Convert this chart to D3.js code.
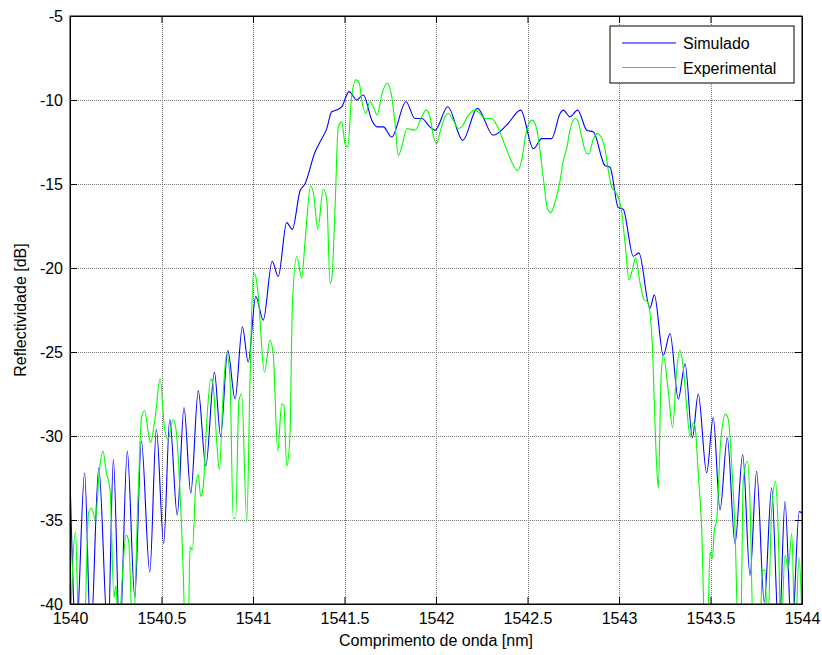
<!DOCTYPE html>
<html>
<head>
<meta charset="utf-8">
<script src="https://cdn.jsdelivr.net/npm/d3@7"></script>
<style>
  html, body { margin: 0; padding: 0; background: #fff; }
  svg { display: block; }
  text { font-family: "Liberation Sans", Arial, Helvetica, sans-serif; fill: #000; }
</style>
</head>
<body>
<svg id="chart" width="822" height="655"></svg>
<script>
// Simulated reflectivity spectrum (wavelength in nm, reflectivity in dB)
const simWl = [
  1540.000, 1540.034, 1540.080, 1540.113, 1540.157, 1540.208, 1540.237, 1540.272,
  1540.313, 1540.354, 1540.390, 1540.436, 1540.472, 1540.512, 1540.545, 1540.586,
  1540.623, 1540.660, 1540.701, 1540.742, 1540.789, 1540.823, 1540.862, 1540.902,
  1540.942, 1540.974, 1541.015, 1541.056, 1541.105, 1541.138, 1541.184, 1541.215,
  1541.257, 1541.284, 1541.339, 1541.366, 1541.403, 1541.430, 1541.457, 1541.485,
  1541.525, 1541.567, 1541.603, 1541.649, 1541.679, 1541.712, 1541.758, 1541.836,
  1541.885, 1541.922, 1541.967, 1541.995, 1542.064, 1542.146, 1542.226, 1542.313,
  1542.386, 1542.463, 1542.532, 1542.578, 1542.632, 1542.678, 1542.696, 1542.732,
  1542.774, 1542.824, 1542.860, 1542.923, 1542.951, 1542.996, 1543.023, 1543.078,
  1543.109, 1543.169, 1543.193, 1543.242, 1543.279, 1543.324, 1543.361, 1543.401,
  1543.433, 1543.479, 1543.515, 1543.552, 1543.592, 1543.634, 1543.676, 1543.716,
  1543.752, 1543.794, 1543.834, 1543.874, 1543.907, 1543.944, 1543.985, 1544.000
];
const simDb = [
  -32.4, -42.0, -32.2, -42.0, -31.9, -42.0, -31.4, -42.0,
  -30.9, -39.6, -30.3, -38.1, -29.6, -36.4, -29.0, -34.7,
  -28.3, -33.4, -27.3, -31.8, -26.2, -30.0, -24.9, -27.8,
  -23.5, -25.6, -21.7, -23.1, -19.6, -20.5, -17.3, -17.7,
  -15.4, -15.0, -13.1, -12.5, -11.7, -10.7, -10.6, -10.4,
  -9.5, -10.0, -9.7, -11.2, -11.6, -11.6, -12.2, -10.1,
  -11.1, -11.1, -11.6, -11.8, -10.4, -12.4, -10.5, -12.1,
  -11.5, -10.6, -12.9, -12.3, -12.3, -10.8, -10.6, -11.0,
  -10.6, -11.8, -11.9, -13.9, -14.0, -16.4, -16.5, -19.3,
  -19.1, -22.4, -21.6, -25.2, -23.9, -27.8, -25.7, -30.1,
  -27.5, -32.2, -28.9, -34.4, -30.1, -36.4, -31.1, -38.3,
  -32.1, -39.9, -33.1, -42.0, -33.9, -42.0, -34.5, -34.6
];

// Measured reflectivity spectrum
const expWl = [
  1540.000, 1540.030, 1540.049, 1540.077, 1540.101, 1540.117, 1540.139, 1540.161,
  1540.180, 1540.199, 1540.219, 1540.240, 1540.251, 1540.265, 1540.286, 1540.306,
  1540.320, 1540.344, 1540.372, 1540.391, 1540.408, 1540.428, 1540.440, 1540.464,
  1540.493, 1540.517, 1540.536, 1540.563, 1540.579, 1540.608, 1540.617, 1540.631,
  1540.645, 1540.656, 1540.669, 1540.687, 1540.701, 1540.714, 1540.728, 1540.747,
  1540.769, 1540.781, 1540.802, 1540.816, 1540.838, 1540.856, 1540.874, 1540.892,
  1540.905, 1540.923, 1540.938, 1540.966, 1540.984, 1541.002, 1541.015, 1541.029,
  1541.062, 1541.093, 1541.111, 1541.135, 1541.157, 1541.169, 1541.184, 1541.202,
  1541.215, 1541.239, 1541.266, 1541.284, 1541.315, 1541.331, 1541.354, 1541.384,
  1541.403, 1541.421, 1541.430, 1541.448, 1541.466, 1541.485, 1541.503, 1541.518,
  1541.539, 1541.563, 1541.581, 1541.594, 1541.616, 1541.639, 1541.657, 1541.679,
  1541.703, 1541.734, 1541.758, 1541.776, 1541.794, 1541.813, 1541.840, 1541.885,
  1541.922, 1541.945, 1541.967, 1541.985, 1542.004, 1542.022, 1542.049, 1542.067,
  1542.095, 1542.122, 1542.140, 1542.177, 1542.213, 1542.240, 1542.268, 1542.304,
  1542.332, 1542.377, 1542.414, 1542.446, 1542.468, 1542.490, 1542.508, 1542.526,
  1542.550, 1542.568, 1542.586, 1542.610, 1542.628, 1542.650, 1542.678, 1542.696,
  1542.714, 1542.732, 1542.760, 1542.774, 1542.796, 1542.824, 1542.836, 1542.860,
  1542.884, 1542.896, 1542.923, 1542.942, 1542.960, 1542.982, 1543.011, 1543.033,
  1543.055, 1543.073, 1543.091, 1543.115, 1543.138, 1543.157, 1543.182, 1543.193,
  1543.206, 1543.215, 1543.230, 1543.242, 1543.269, 1543.293, 1543.315, 1543.333,
  1543.351, 1543.370, 1543.388, 1543.406, 1543.415, 1543.433, 1543.452, 1543.470,
  1543.484, 1543.497, 1543.510, 1543.521, 1543.534, 1543.555, 1543.582, 1543.597,
  1543.616, 1543.634, 1543.652, 1543.667, 1543.679, 1543.703, 1543.716, 1543.734,
  1543.770, 1543.783, 1543.798, 1543.811, 1543.834, 1543.856, 1543.871, 1543.885,
  1543.907, 1543.925, 1543.944, 1543.962, 1543.984, 1544.000
];
const expDb = [
  -42.0, -35.7, -42.0, -42.0, -34.6, -34.3, -35.0, -32.0,
  -30.9, -32.2, -33.2, -39.6, -38.9, -42.0, -38.4, -35.9,
  -36.2, -42.0, -33.6, -28.9, -28.5, -29.8, -30.4, -29.0,
  -26.6, -29.6, -30.2, -29.0, -29.6, -35.0, -37.5, -42.0,
  -42.0, -36.6, -36.8, -33.0, -32.3, -33.6, -33.0, -29.2,
  -26.6, -26.9, -30.4, -32.0, -27.3, -25.1, -26.5, -34.9,
  -34.9, -27.9, -27.5, -35.1, -26.5, -20.3, -20.5, -21.7,
  -26.2, -24.3, -25.2, -30.9, -28.1, -28.2, -31.8, -30.0,
  -22.3, -19.3, -20.6, -18.5, -15.1, -15.6, -17.7, -15.3,
  -15.9, -20.9, -20.7, -16.5, -11.6, -11.3, -12.6, -12.8,
  -9.8, -8.8, -9.0, -10.0, -10.8, -10.1, -10.4, -10.9,
  -9.7, -9.0, -9.8, -11.4, -13.3, -12.8, -11.7, -11.8,
  -11.0, -10.6, -11.0, -12.1, -12.6, -11.9, -11.0, -10.8,
  -11.2, -11.7, -11.6, -10.9, -10.6, -10.8, -11.1, -11.1,
  -11.5, -12.7, -13.7, -14.2, -13.6, -12.1, -11.4, -11.2,
  -11.7, -13.0, -14.6, -16.5, -16.7, -16.1, -14.8, -13.6,
  -12.9, -11.8, -11.1, -11.2, -12.2, -13.2, -13.2, -12.3,
  -12.0, -12.1, -12.9, -14.2, -15.2, -15.5, -16.4, -18.5,
  -20.7, -20.1, -19.4, -20.9, -21.9, -22.0, -24.5, -28.1,
  -31.8, -33.1, -26.5, -25.2, -27.3, -29.5, -26.1, -24.9,
  -25.9, -28.3, -30.0, -29.2, -29.4, -32.2, -35.6, -42.0,
  -42.0, -36.9, -37.3, -35.6, -35.0, -30.4, -28.7, -29.0,
  -31.7, -35.6, -42.0, -40.5, -32.6, -31.5, -34.0, -42.0,
  -42.0, -38.0, -38.0, -42.0, -34.5, -32.7, -36.0, -42.0,
  -37.1, -37.9, -35.8, -42.0, -37.2, -41.0
];

const xTicks = [1540, 1540.5, 1541, 1541.5, 1542, 1542.5, 1543, 1543.5, 1544];
const yTicks = [-5, -10, -15, -20, -25, -30, -35, -40];
const seriesNames = ["Simulado", "Experimental"];
const seriesColors = ["#0000ff", "#00ff00"];

const W = 822, H = 655;
const margin = { left: 70, top: 16, right: 20, bottom: 51 };
const iw = W - margin.left - margin.right;
const ih = H - margin.top - margin.bottom;

const svg = d3.select("#chart");
const g = svg.append("g").attr("transform", `translate(${margin.left},${margin.top})`);

const x = d3.scaleLinear().domain([1540, 1544]).range([0, iw]);
const y = d3.scaleLinear().domain([-40, -5]).range([ih, 0]);

// plot background
g.append("rect").attr("width", iw).attr("height", ih).attr("fill", "#fff");

// dotted grid
const grid = g.append("g").attr("stroke", "#7a7a7a").attr("stroke-width", 1)
  .attr("stroke-dasharray", "1,1").attr("shape-rendering", "crispEdges");
grid.selectAll(".gx").data(xTicks.slice(1, -1)).join("line")
  .attr("x1", d => Math.round(x(d)) + 0.5).attr("x2", d => Math.round(x(d)) + 0.5)
  .attr("y1", 0).attr("y2", ih);
grid.selectAll(".gy").data(yTicks.slice(1, -1)).join("line")
  .attr("y1", d => Math.round(y(d)) + 0.5).attr("y2", d => Math.round(y(d)) + 0.5)
  .attr("x1", 0).attr("x2", iw);

// data lines, clipped to the axes box
svg.append("defs").append("clipPath").attr("id", "plotclip")
  .append("rect").attr("width", iw).attr("height", ih);

const line = d3.line()
  .x(d => x(d[0]))
  .y(d => y(d[1]))
  .curve(d3.curveMonotoneX);

const simPts = simWl.map((w, i) => [w, simDb[i]]);
const expPts = expWl.map((w, i) => [w, expDb[i]]);

const plot = g.append("g").attr("clip-path", "url(#plotclip)");
plot.append("path").datum(simPts).attr("d", line)
  .attr("fill", "none").attr("stroke", seriesColors[0]).attr("stroke-width", 1.1);
plot.append("path").datum(expPts).attr("d", line)
  .attr("fill", "none").attr("stroke", seriesColors[1]).attr("stroke-width", 1.1);

// axes with inward ticks on all four sides
const fontSize = 16;
const axBottom = g.append("g").attr("transform", `translate(0,${ih})`)
  .call(d3.axisBottom(x).tickValues(xTicks).tickSizeInner(-7).tickSizeOuter(0)
    .tickPadding(9).tickFormat(d3.format("")));
const axLeft = g.append("g")
  .call(d3.axisLeft(y).tickValues(yTicks).tickSizeInner(-7).tickSizeOuter(0)
    .tickPadding(7).tickFormat(d => String(d)));
const axTop = g.append("g")
  .call(d3.axisTop(x).tickValues(xTicks).tickSizeInner(-7).tickSizeOuter(0).tickFormat(""));
const axRight = g.append("g").attr("transform", `translate(${iw},0)`)
  .call(d3.axisRight(y).tickValues(yTicks).tickSizeInner(-7).tickSizeOuter(0).tickFormat(""));

[axBottom, axLeft, axTop, axRight].forEach(a => {
  a.selectAll("path.domain").attr("stroke", "#000").attr("stroke-width", 1);
  a.selectAll(".tick line").attr("stroke", "#000");
  a.selectAll("text").attr("font-size", fontSize)
    .attr("font-family", "'Liberation Sans', Arial, sans-serif").attr("fill", "#000");
});

// axes box outline
g.append("rect").attr("width", iw).attr("height", ih)
  .attr("fill", "none").attr("stroke", "#000").attr("stroke-width", 1);

// axis titles
svg.append("text")
  .attr("x", margin.left + iw / 2).attr("y", 646)
  .attr("text-anchor", "middle").attr("font-size", fontSize)
  .text("Comprimento de onda [nm]");
svg.append("text")
  .attr("transform", `translate(26,${margin.top + ih / 2}) rotate(-90)`)
  .attr("text-anchor", "middle").attr("font-size", fontSize)
  .text("Reflectividade [dB]");

// legend
const lg = svg.append("g").attr("transform", "translate(610,26)");
lg.append("rect").attr("width", 184).attr("height", 57)
  .attr("fill", "#fff").attr("stroke", "#000").attr("stroke-width", 1);
seriesNames.forEach((name, i) => {
  const ly = 17 + i * 24.5;
  lg.append("line").attr("x1", 12).attr("x2", 66).attr("y1", ly).attr("y2", ly)
    .attr("stroke", seriesColors[i]).attr("stroke-width", 1.1);
  lg.append("text").attr("x", 73).attr("y", ly + 6)
    .attr("font-size", fontSize).text(name);
});
</script>
</body>
</html>
